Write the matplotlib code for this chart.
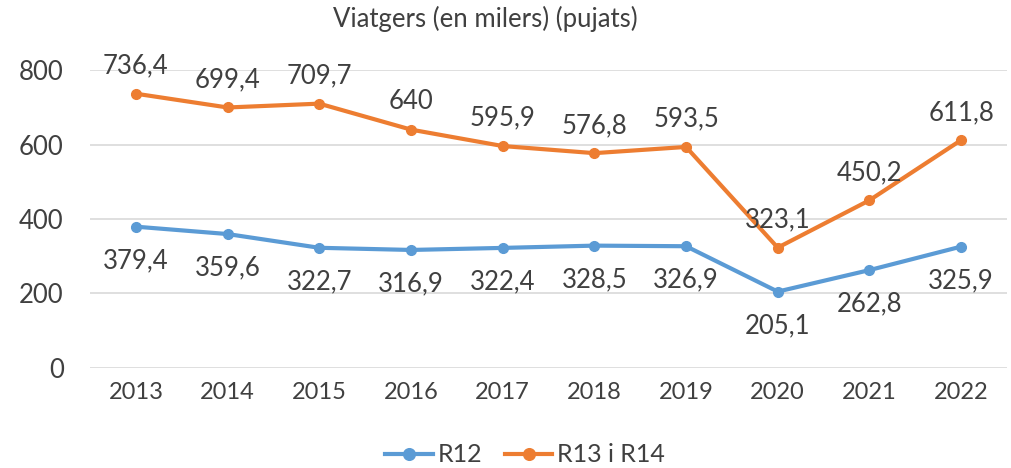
import matplotlib.pyplot as plt

anys = ['2013', '2014', '2015', '2016', '2017', '2018', '2019', '2020', '2021', '2022']
r12 = [379.4, 359.6, 322.7, 316.9, 322.4, 328.5, 326.9, 205.1, 262.8, 325.9]
r13_r14 = [736.4, 699.4, 709.7, 640, 595.9, 576.8, 593.5, 323.1, 450.2, 611.8]

gris = '#404040'
blau = '#5B9BD5'
taronja = '#ED7D31'

plt.rcParams['font.family'] = ['Lato', 'DejaVu Sans']

def fmt(v):
    s = f"{v:.1f}".replace('.', ',')
    return s[:-2] if s.endswith(',0') else s

fig = plt.figure(figsize=(10.12, 4.68), dpi=100)
ax = fig.add_axes([0.089, 0.2137, 0.906, 0.6367])

x = range(len(anys))
ax.plot(x, r12, color=blau, lw=3, marker='o', ms=7, label='R12')
ax.plot(x, r13_r14, color=taronja, lw=3, marker='o', ms=7, label='R13 i R14')

for i, v in enumerate(r12):
    ax.annotate(fmt(v), (i, v), xytext=(0, -15.5), textcoords='offset points',
                ha='center', va='top', fontsize=18.5, color=gris)
for i, v in enumerate(r13_r14):
    ax.annotate(fmt(v), (i, v), xytext=(0, 11), textcoords='offset points',
                ha='center', va='bottom', fontsize=18.5, color=gris)

ax.set_xlim(-0.5, len(anys) - 0.5)
ax.set_ylim(0, 800)
ax.set_yticks([0, 200, 400, 600, 800])
ax.set_xticks(list(x))
ax.set_xticklabels(anys)
ax.tick_params(axis='y', length=0, labelsize=18.5, labelcolor=gris, pad=19)
ax.tick_params(axis='x', length=0, labelsize=17, labelcolor=gris, pad=10)
ax.grid(axis='y', color='#D9D9D9', lw=1.2)
ax.set_axisbelow(True)
for s in ax.spines.values():
    s.set_visible(False)

fig.text(0.48, 0.96, 'Viatgers (en milers) (pujats)', ha='center', va='center',
         fontsize=18.5, color=gris)
fig.legend(loc='center', bbox_to_anchor=(0.519, 0.028), ncol=2, frameon=False,
           fontsize=18, labelcolor=gris, handlelength=1.9, columnspacing=0.9,
           handletextpad=0.2, markerscale=1.2)

fig.savefig('out.png', dpi=100)
